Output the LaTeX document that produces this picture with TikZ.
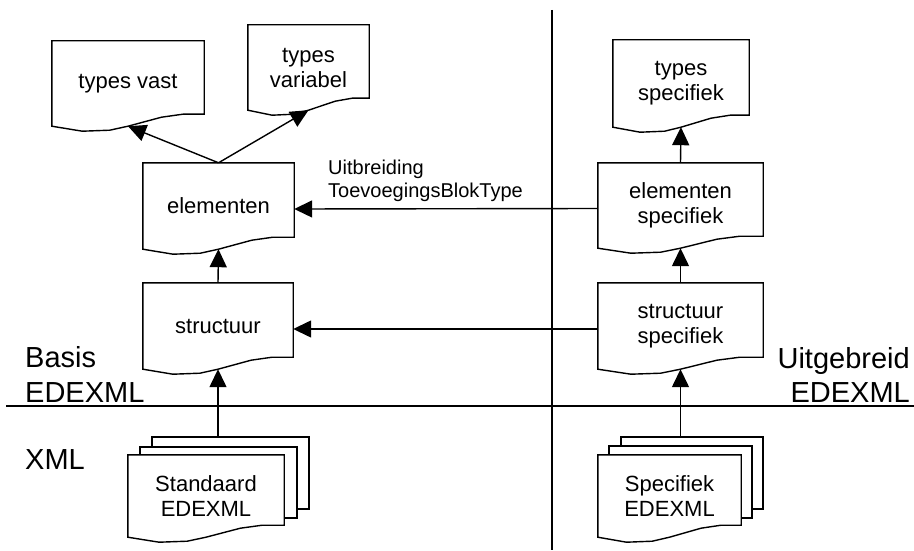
\documentclass[tikz,border=0pt]{standalone}
\usepackage{fontspec}
\setmainfont{Liberation Sans}
\usetikzlibrary{arrows.meta,calc,backgrounds}
\tikzset{
 ln/.style={line width=1.4pt},
 doc/.style={inner sep=0pt, align=center, font=\fontsize{22}{25}\selectfont},
 sheet/.style={draw, ln, fill=white, inner sep=0pt},
 arr/.style={ln, -{Triangle[length=18pt,width=17pt]}},
 big/.style={inner sep=0pt, font=\fontsize{29}{35}\selectfont},
 lbl/.style={inner sep=0pt, font=\fontsize{20}{22}\selectfont},
}
\newcommand\docoutline[1]{%
 \draw[ln, fill=white] (#1.north west) -- (#1.north east) -- ($(#1.south east)+(0pt,12pt)$)
  -- ($(#1.south west)!.86!(#1.south east)+(0pt,12pt)$)
  -- ($(#1.south west)!.72!(#1.south east)+(0pt,9pt)$)
  -- ($(#1.south west)!.5!(#1.south east)$)
  -- ($(#1.south west)!.38!(#1.south east)+(0pt,-4pt)$)
  -- ($(#1.south west)!.2!(#1.south east)+(0pt,-5pt)$)
  -- (#1.south west) -- cycle;}
\begin{document}
\begin{tikzpicture}[x=1pt,y=-1pt]
\useasboundingbox (0,0) rectangle (914,551);
% documents
\node[doc, minimum width=152pt, minimum height=85pt] (tvast) at (128,83.5) {types vast};
\node[doc, minimum width=121pt, minimum height=85pt] (tvar) at (308.5,67.5) {types\\variabel};
\node[doc, minimum width=136pt, minimum height=87pt] (tspec) at (681,83.5) {types\\specifiek};
\node[doc, minimum width=151pt, minimum height=86pt] (elem) at (218.5,206) {elementen};
\node[doc, minimum width=165pt, minimum height=85pt] (espec) at (680.5,205.5) {elementen\\specifiek};
\node[doc, minimum width=150pt, minimum height=86pt] (struc) at (218,326) {structuur};
\node[doc, minimum width=165pt, minimum height=86pt] (sspec) at (680.5,326) {structuur\\specifiek};
\node[doc, minimum width=156pt, minimum height=82pt] (std) at (206,496) {Standaard\\EDEXML};
\node[doc, minimum width=143pt, minimum height=82pt] (spec) at (669.5,496) {Specifiek\\EDEXML};
\begin{pgfonlayer}{background}
 \node[sheet, minimum width=157pt, minimum height=72pt] (stdback) at (230.5,473) {};
 \node[sheet, minimum width=157pt, minimum height=71pt] (stdmid) at (218.5,482.5) {};
 \node[sheet, minimum width=142pt, minimum height=72pt] (specback) at (692,473) {};
 \node[sheet, minimum width=143pt, minimum height=72pt] (specmid) at (680.5,482) {};
 \docoutline{tvast}
 \docoutline{tvar}
 \docoutline{tspec}
 \docoutline{elem}
 \docoutline{espec}
 \docoutline{struc}
 \docoutline{sspec}
 \docoutline{std}
 \docoutline{spec}
\end{pgfonlayer}
% divider lines
\coordinate (hl) at (6,406);
\coordinate (hr) at (914,406);
\coordinate (vt) at (552,10);
\coordinate (vb) at (552,550);
\draw[ln] (hl) -- (hr);
\draw[ln] (vt) -- (vb);
% arrows
\draw[arr] (elem.north) -- (tvast.south);
\draw[arr] (elem.north) -- (tvar.south);
\draw[arr] (espec.north) -- (tspec.south);
\draw[arr] (struc.north) -- (elem.south);
\draw[arr] (sspec.north) -- (espec.south);
\draw[arr] (stdback.north -| struc.south) -- (struc.south);
\draw[arr] (specback.north -| sspec.south) -- (sspec.south);
\draw[arr] ([yshift=-3pt]espec.west) -- ([yshift=-3pt]elem.east);
\draw[arr] ([yshift=-3pt]sspec.west) -- ([yshift=-3pt]struc.east);
% labels
\node[lbl, anchor=base west] (lab1) at (328,175) {Uitbreiding};
\node[lbl, anchor=base west] (lab2) at (328,197) {ToevoegingsBlokType};
\node[big, anchor=base west] (basis1) at (25,367) {Basis};
\node[big, anchor=base west] (basis2) at (25,402) {EDEXML};
\node[big, anchor=base west] (xml) at (25,469) {XML};
\node[big, anchor=base east] (uit1) at (910,368) {Uitgebreid};
\node[big, anchor=base east] (uit2) at (910,402) {EDEXML};
\end{tikzpicture}
\end{document}
